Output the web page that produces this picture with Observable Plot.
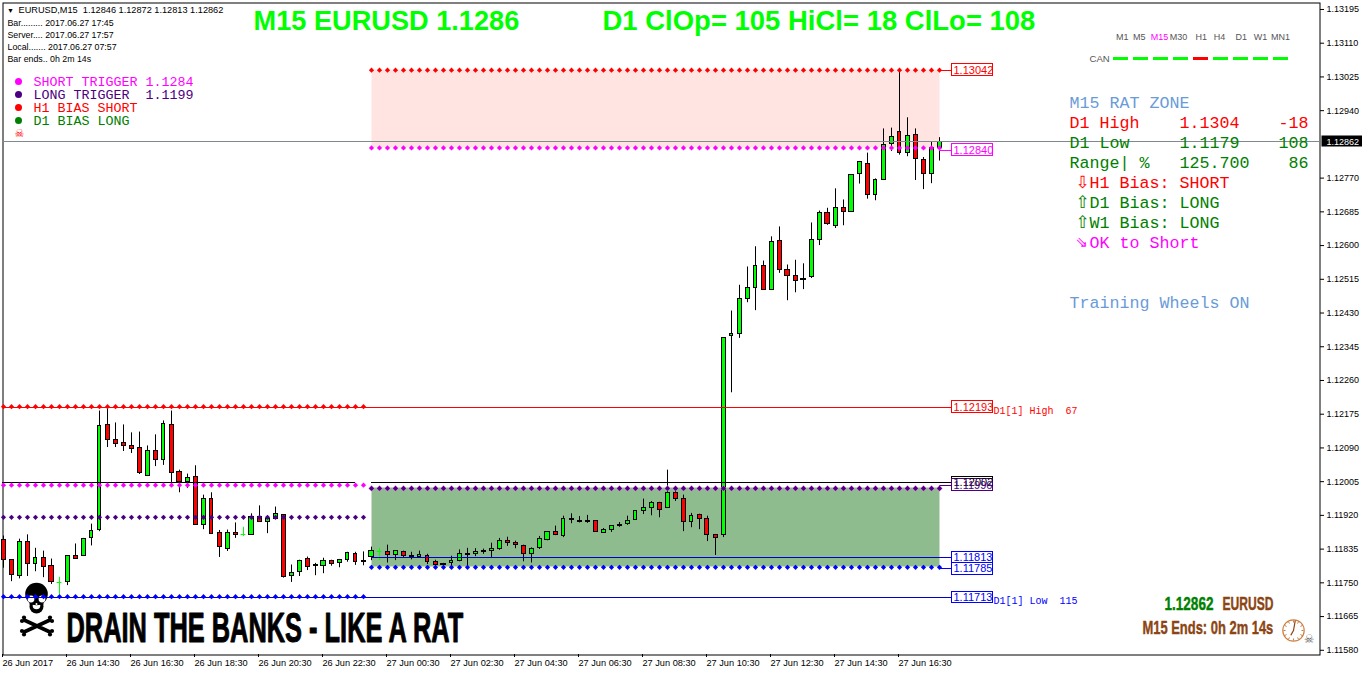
<!DOCTYPE html>
<html><head><meta charset="utf-8">
<style>html,body{margin:0;padding:0;background:#fff}svg{display:block}</style>
<script src="https://cdn.jsdelivr.net/npm/d3@7"></script>
<script src="https://cdn.jsdelivr.net/npm/@observablehq/plot@0.6"></script>
</head><body><div id="chart"></div>
<script>
const opens=[1.11858,1.11807,1.11768,1.11852,1.11797,1.11812,1.11792,1.11751,1.11752,1.11817,1.11817,1.11862,1.11883,1.12147,1.12109,1.12102,1.12094,1.12089,1.12019,1.12082,1.12059,1.12147,1.12029,1.12004,1.12016,1.11895,1.11961,1.11875,1.11835,1.11875,1.11873,1.11870,1.11917,1.11903,1.11910,1.11920,1.11767,1.11777,1.11809,1.11794,1.11792,1.11804,1.11799,1.11807,1.11822,1.11804,1.11814,1.11829,1.11827,1.11819,1.11827,1.11817,1.11814,1.11818,1.11802,1.11797,1.11799,1.11804,1.11822,1.11822,1.11829,1.11830,1.11835,1.11856,1.11850,1.11844,1.11822,1.11837,1.11859,1.11877,1.11869,1.11912,1.11907,1.11903,1.11907,1.11875,1.11882,1.11892,1.11898,1.11908,1.11930,1.11938,1.11950,1.11938,1.11976,1.11961,1.11903,1.11920,1.11910,1.11870,1.11870,1.12371,1.12376,1.12465,1.12492,1.12548,1.12487,1.12611,1.12538,1.12523,1.12517,1.12520,1.12613,1.12681,1.12649,1.12694,1.12684,1.12780,1.12805,1.12727,1.12765,1.12855,1.12885,1.12833,1.12878,1.12815,1.12780,1.12846];
const highs=[1.11868,1.11807,1.11860,1.11871,1.11837,1.11830,1.11810,1.11764,1.11817,1.11848,1.11862,1.11898,1.12183,1.12190,1.12153,1.12148,1.12128,1.12130,1.12095,1.12123,1.12158,1.12183,1.12034,1.12024,1.12045,1.11971,1.11977,1.11882,1.11883,1.11901,1.11890,1.11924,1.11944,1.11917,1.11941,1.11922,1.11795,1.11807,1.11815,1.11799,1.11812,1.11807,1.11809,1.11827,1.11827,1.11828,1.11840,1.11837,1.11845,1.11829,1.11830,1.11827,1.11830,1.11822,1.11807,1.11799,1.11817,1.11833,1.11837,1.11836,1.11835,1.11850,1.11862,1.11865,1.11855,1.11845,1.11838,1.11867,1.11877,1.11893,1.11918,1.11924,1.11917,1.11920,1.11907,1.11887,1.11894,1.11902,1.11918,1.11930,1.11961,1.11955,1.11953,1.12034,1.11983,1.11971,1.11925,1.11923,1.11918,1.11872,1.12366,1.12435,1.12500,1.12546,1.12597,1.12561,1.12622,1.12647,1.12551,1.12563,1.12554,1.12657,1.12687,1.12694,1.12743,1.12715,1.12777,1.12812,1.12833,1.12768,1.12894,1.12896,1.13042,1.12922,1.12894,1.12822,1.12860,1.12872];
const lows=[1.11787,1.11753,1.11760,1.11766,1.11778,1.11763,1.11746,1.11720,1.11743,1.11809,1.11817,1.11843,1.11879,1.12091,1.12091,1.12081,1.12076,1.12023,1.12019,1.12043,1.12046,1.12003,1.11977,1.11988,1.11895,1.11884,1.11872,1.11814,1.11829,1.11862,1.11867,1.11870,1.11903,1.11874,1.11910,1.11762,1.11751,1.11766,1.11781,1.11768,1.11773,1.11792,1.11788,1.11802,1.11794,1.11793,1.11806,1.11806,1.11800,1.11806,1.11812,1.11808,1.11812,1.11796,1.11791,1.11791,1.11791,1.11803,1.11791,1.11816,1.11822,1.11814,1.11832,1.11842,1.11836,1.11803,1.11800,1.11834,1.11856,1.11869,1.11864,1.11899,1.11901,1.11900,1.11877,1.11875,1.11877,1.11890,1.11895,1.11908,1.11922,1.11919,1.11914,1.11938,1.11955,1.11879,1.11889,1.11884,1.11854,1.11819,1.11864,1.12229,1.12366,1.12456,1.12436,1.12487,1.12487,1.12530,1.12461,1.12481,1.12489,1.12517,1.12600,1.12651,1.12643,1.12650,1.12684,1.12755,1.12717,1.12713,1.12765,1.12837,1.12828,1.12824,1.12764,1.12741,1.12756,1.12813];
const closes=[1.11808,1.11769,1.11852,1.11797,1.11812,1.11791,1.11751,1.11751,1.11817,1.11811,1.11861,1.11880,1.12145,1.12109,1.12101,1.12094,1.12088,1.12026,1.12082,1.12059,1.12150,1.12026,1.12004,1.12014,1.11895,1.11961,1.11874,1.11840,1.11875,1.11870,1.11873,1.11917,1.11903,1.11910,1.11923,1.11764,1.11774,1.11804,1.11789,1.11793,1.11804,1.11797,1.11807,1.11825,1.11802,1.11802,1.11830,1.11829,1.11819,1.11829,1.11817,1.11814,1.11819,1.11802,1.11796,1.11794,1.11804,1.11822,1.11819,1.11827,1.11830,1.11836,1.11856,1.11850,1.11845,1.11822,1.11836,1.11861,1.11877,1.11870,1.11912,1.11908,1.11903,1.11907,1.11877,1.11882,1.11894,1.11897,1.11907,1.11930,1.11938,1.11950,1.11934,1.11976,1.11961,1.11903,1.11918,1.11910,1.11870,1.11864,1.12366,1.12376,1.12465,1.12492,1.12548,1.12487,1.12608,1.12538,1.12523,1.12510,1.12514,1.12613,1.12681,1.12654,1.12694,1.12684,1.12777,1.12810,1.12727,1.12765,1.12853,1.12873,1.12833,1.12875,1.12817,1.12780,1.12845,1.12862];

const xTickBars=[0,8,16,24,32,40,48,56,64,72,80,88,96,104,112];
const xTickLabels=["26 Jun 2017","26 Jun 14:30","26 Jun 16:30","26 Jun 18:30","26 Jun 20:30","26 Jun 22:30","27 Jun 00:30","27 Jun 02:30","27 Jun 04:30","27 Jun 06:30","27 Jun 08:30","27 Jun 10:30","27 Jun 12:30","27 Jun 14:30","27 Jun 16:30"];
const yTicks=[1.13195,1.13110,1.13025,1.12940,1.12770,1.12685,1.12600,1.12515,1.12430,1.12345,1.12260,1.12175,1.12090,1.12005,1.11920,1.11835,1.11750,1.11665,1.11580];
const lastPrice=1.12862;
const priceBoxes=[1.13042,1.12840,1.12193,1.12002,1.11996,1.11813,1.11785,1.11713];
const boxColors=["#ff0000","#ff00ff","#ff0000","#000000","#4b0082","#0000ff","#0000ff","#0000ff"];
const tfNames=["M1","M5","M15","M30","H1","H4","D1","W1","MN1"];
const tfStates=[1,1,1,1,0,1,1,1,1];

/* layout */
const W=1362,H=675,ML=2,MT=2,MR=43,MB=21;
const xDom=[-0.125,164.5], yDom=[1.115694,1.132126];
const bars=opens.map((o,i)=>({i,o,h:highs[i],l:lows[i],c:closes[i]}));
const range=(a,b)=>d3.range(a,b+1);
const left=range(0,45), right=range(46,117);
const xi=px=>(px-3)/8;                               /* page pixel to bar units, for annotations */
const GREEN="#00ff00",RED="#ff0000";
const frameAt=(px,py)=>({frameAnchor:"top-left",dx:px-ML,dy:py-MT});
const note=(t,px,py,o={})=>Plot.text([t],{text:d=>d,...frameAt(px,py),textAnchor:"start",lineAnchor:"middle",fontFamily:"Liberation Sans",fontSize:9,fill:"#000",...o});
const dots=(idx,y,fill,r=2.35)=>Plot.dot(idx,{x:d=>d,y:()=>y,symbol:"diamond2",r,fill,stroke:"none"});
const rule=(x1,x2,y,stroke,strokeWidth=1)=>Plot.ruleY([y],{x1,x2,stroke,strokeWidth});
const shape=(px,py,draw,o={})=>Plot.dot([0],{...frameAt(px,py),symbol:{draw},r:4,fill:"#000",stroke:"none",...o});
const disc=(px,py,r,fill)=>Plot.dot([0],{...frameAt(px,py),r,fill,stroke:"none"});
const mono={fontFamily:"Liberation Mono",fontSize:16.67};
const lgd={fontFamily:"Liberation Mono",fontSize:13.33};
const tiny={fontSize:8.8};
const BLUE2="#6a9bd8",G2="#008000";
const BROWN="#8b4513";
const NARROW="Liberation Sans Narrow, Liberation Sans";
const tfX=[1121.7,1138.7,1159,1178,1200.7,1219,1240.7,1260,1280];
const clockTicks=d3.range(12).map(h=>h*Math.PI/6);

const marks=[
  Plot.rect([0],{x1:46,x2:117,y1:1.13042,y2:1.12846,fill:"#ffe4e1"}),
  Plot.rect([0],{x1:46,x2:117,y1:1.11988,y2:1.11789,fill:"#8fbc8f"}),
  Plot.frame({stroke:"#000"}),
  Plot.axisY(yTicks,{anchor:"right",tickSize:4,tickPadding:3,tickFormat:d=>d.toFixed(5),fontFamily:"Liberation Sans",fontSize:9,label:null,textAnchor:"start"}),
  Plot.axisX(xTickBars,{anchor:"bottom",tickSize:3,tickPadding:2,tickFormat:d=>xTickLabels[xTickBars.indexOf(d)],fontFamily:"Liberation Sans",fontSize:9.2,label:null,textAnchor:"start",dx:-1}),
  /* skull and crossbones */
  disc(36,606,7,"#000"), disc(36,605,3.8,"#fff"),
  disc(36,593.5,11.3,"#000"), shape(36,603,(c)=>c.rect(-7,-5,14,6)),
  disc(30.5,598.5,3.4,"#fff"), disc(41.5,598.5,3.4,"#fff"), disc(36,603.5,1,"#fff"),
  shape(36.5,625.5,(c)=>{c.moveTo(-14,-6.5);c.lineTo(14,6.5);c.moveTo(14,-6.5);c.lineTo(-14,6.5)},{fill:"none",stroke:"#000",strokeWidth:3.6}),
  ...[[-15,-5],[-13,-8.5],[15,-5],[13,-8.5],[-15,5],[-13,8.5],[15,5],[13,8.5]].map(([a,b])=>disc(36.5+a,625.5+b,2.1,"#000")),
  /* candles */
  Plot.ruleX(bars,{x:"i",y1:"l",y2:"h",stroke:d=>d.o===d.c?GREEN:"#000",strokeWidth:1}),
  Plot.rect(bars,{x1:d=>d.i-0.25,x2:d=>d.i+0.25,y1:"o",y2:"c",fill:d=>d.c>=d.o?GREEN:RED,stroke:"#000",strokeWidth:1,filter:d=>d.o!==d.c}),
  Plot.ruleY(bars.filter(d=>d.o===d.c),{x1:d=>d.i-0.3,x2:d=>d.i+0.3,y:"o",stroke:GREEN}),
  /* level lines */
  rule(xi(2),xi(951),1.12193,RED),
  rule(xi(2),xi(355),1.12002,"#000"),
  rule(xi(371),xi(951),1.12002,"#000"),
  rule(xi(2),xi(951),1.11713,"#0000cd"),
  rule(xi(371),xi(951),1.11813,"#0000cd"),
  rule(xi(2),xi(1319),lastPrice,"#808890"),
  rule(117,xi(951),1.13042,RED),
  rule(117,xi(951),1.1284,"#ff00ff"),
  rule(117,xi(951),1.11996,"#4b0082"),
  rule(117,xi(951),1.11785,"#0000ff"),
  /* dotted levels */
  dots(left,1.12194,RED),
  dots(left,1.11996,"#ff00ff"),
  dots(left,1.11915,"#4b0082"),
  dots(left,1.11715,"#0000ff"),
  dots(right,1.13042,RED),
  dots(right,1.12846,"#ff00ff"),
  dots(right,1.11988,"#ff66ff",2.8),
  dots(right,1.11988,"#4b0082"),
  dots(right,1.11789,"#0000ff"),
  /* price boxes */
  Plot.rect(priceBoxes,{x1:xi(951),x2:xi(992),y1:d=>d-0.00015,y2:d=>d+0.00015,fill:"#fff",stroke:(d,i)=>boxColors[i]}),
  Plot.text(priceBoxes,{x:xi(953),y:d=>d,text:d=>d.toFixed(5),textAnchor:"start",fill:(d,i)=>boxColors[i],fontFamily:"Liberation Sans",fontSize:11,letterSpacing:0.15}),
  note("D1[1] High  67",993,410,{fontFamily:"Liberation Mono",fontSize:10,fill:RED}),
  note("D1[1] Low  115",993,600.5,{fontFamily:"Liberation Mono",fontSize:10,fill:"#0000ff"}),
  /* last price tag */
  Plot.rect([lastPrice],{x1:xi(1321),x2:xi(1362),y1:d=>d-0.00013,y2:d=>d+0.00013,fill:"#000"}),
  note("1.12862",1326,142,{fill:"#fff",fontSize:9}),
  /* header */
  note("\u25BC",6.5,10,{fontSize:7}),
  note("EURUSD,M15  1.12846 1.12872 1.12813 1.12862",18,10,{fontSize:9.2}),
  note("Bar......... 2017.06.27 17:45",7,23,tiny),
  note("Server.... 2017.06.27 17:57",7,35,tiny),
  note("Local....... 2017.06.27 07:57",7,47,tiny),
  note("Bar ends.. 0h 2m 14s",7,59,tiny),
  /* legend */
  ...[["#ff00ff",81,"SHORT TRIGGER 1.1284"],["#4b0082",94,"LONG TRIGGER  1.1199"],["#ff0000",107,"H1 BIAS SHORT"],["#008000",120,"D1 BIAS LONG"]].flatMap(([c,y,t])=>[
    Plot.dot([0],{...frameAt(18,y),r:3.5,fill:c}),
    note(t,33,y,{...lgd,fill:c})
  ]),
  note("\u2620",14,132.5,{fontFamily:"DejaVu Sans",fontSize:11,fill:RED}),
  /* big titles */
  note("M15 EURUSD 1.1286",253,21,{fontSize:27,fontWeight:"bold",fill:"#00ff00",className:"fit-266"}),
  note("D1 ClOp= 105 HiCl= 18 ClLo= 108",602,21,{fontSize:27,fontWeight:"bold",fill:"#00ff00",className:"fit-433"}),
  /* timeframe strip */
  ...tfNames.map((t,i)=>note(t,tfX[i],36.5,{textAnchor:"middle",fontSize:9,fill:i===2?"#ff00ff":"#555"})),
  note("CAN",1089,58.5,{fontSize:9.6,fill:"#555"}),
  ...tfStates.map((s,i)=>shape(1120+20*i,58,(c)=>c.rect(-7.5,-1.5,15,3),{fill:s?"#00ff00":RED})),
  /* right panel */
  note("M15 RAT ZONE",1069,102,{...mono,fill:BLUE2}),
  note("D1 High",1069,122,{...mono,fill:RED}), note("1.1304",1179,122,{...mono,fill:RED}), note("-18",1308,122,{...mono,fill:RED,textAnchor:"end"}),
  note("D1 Low",1069,142,{...mono,fill:G2}), note("1.1179",1179,142,{...mono,fill:G2}), note("108",1308,142,{...mono,fill:G2,textAnchor:"end"}),
  note("Range| %",1069,162,{...mono,fill:G2}), note("125.700",1179,162,{...mono,fill:G2}), note("86",1308,162,{...mono,fill:G2,textAnchor:"end"}),
  note("\u21E9",1075,182,{fontFamily:"DejaVu Sans",fontSize:17,fill:RED}), note("H1 Bias: SHORT",1089,182,{...mono,fill:RED}),
  note("\u21E7",1075,202,{fontFamily:"DejaVu Sans",fontSize:17,fill:G2}), note("D1 Bias: LONG",1089,202,{...mono,fill:G2}),
  note("\u21E7",1075,222,{fontFamily:"DejaVu Sans",fontSize:17,fill:G2}), note("W1 Bias: LONG",1089,222,{...mono,fill:G2}),
  note("\u21D8",1075,242,{fontFamily:"DejaVu Sans",fontSize:15,fill:"#ff00ff"}), note("OK to Short",1089,242,{...mono,fill:"#ff00ff"}),
  note("Training Wheels ON",1069,302,{...mono,fill:BLUE2}),
  /* bottom-left banner */
  note("DRAIN THE BANKS - LIKE A RAT",66,628.5,{fontFamily:NARROW,fontWeight:"bold",fontSize:42,fill:"#000",stroke:"#000",strokeWidth:1,className:"fit-397"}),
  /* bottom-right */
  note("1.12862",1164,603.5,{fontFamily:NARROW,fontWeight:"bold",fontSize:18,fill:G2,stroke:G2,strokeWidth:0.4,className:"fit-49"}),
  note("EURUSD",1222,603.5,{fontFamily:NARROW,fontWeight:"bold",fontSize:18,fill:BROWN,stroke:BROWN,strokeWidth:0.4,className:"fit-51"}),
  note("M15 Ends: 0h 2m 14s",1142,627.5,{fontFamily:NARROW,fontWeight:"bold",fontSize:18,fill:BROWN,stroke:BROWN,strokeWidth:0.4,className:"fit-131"}),
  /* clock */
  Plot.dot([0],{...frameAt(1293,630),r:10.7,fill:"#fff",stroke:"#d08040",strokeWidth:1.2}),
  shape(1293,630,(c)=>clockTicks.forEach(a=>{c.moveTo(8*Math.sin(a),-8*Math.cos(a));c.lineTo(10*Math.sin(a),-10*Math.cos(a))}),{fill:"none",stroke:"#b87040",strokeWidth:0.9}),
  Plot.vector([0],{...frameAt(1293,630),length:9.5,rotate:10,anchor:"start",stroke:BROWN,strokeWidth:1.2,shape:{draw(c,l){c.moveTo(0,0);c.lineTo(0,-l)}}}),
  Plot.vector([0],{...frameAt(1293,630),length:5,rotate:210,anchor:"start",stroke:BROWN,strokeWidth:1.2,shape:{draw(c,l){c.moveTo(0,0);c.lineTo(0,-l)}}}),
  note("\u2620",1303.5,639,{fontFamily:"DejaVu Sans",fontSize:11.5,fill:"#555"}),
];

const chart=Plot.plot({
  width:W,height:H,marginLeft:ML,marginTop:MT,marginRight:MR,marginBottom:MB,
  x:{type:"linear",domain:xDom,axis:null},
  y:{type:"linear",domain:yDom,axis:null},
  style:{background:"#fff",overflow:"visible"},
  marks
});
document.getElementById("chart").append(chart);

/* squeeze the poster-style captions to the condensed width of the original */
chart.querySelectorAll("[class*='fit-']").forEach(el=>{
  const m=(el.getAttribute("class")||"").match(/fit-(\d+)/);
  if(!m)return;
  (el.tagName==="text"?[el]:el.querySelectorAll("text")).forEach(t=>{
    const sx=(+m[1])/t.getComputedTextLength();
    t.setAttribute("transform",((t.getAttribute("transform")||"")+` scale(${sx},1)`).trim());
  });
});
/* snap rectangles and horizontal rules to device pixels, as the terminal draws them */
const pixelOffset=el=>/0\.5/.test(el.parentNode.getAttribute("transform")||"")?0:0.5;
chart.querySelectorAll("rect").forEach(r=>{
  if(!r.hasAttribute("width")||!r.hasAttribute("height"))return;
  const off=pixelOffset(r),x=+r.getAttribute("x"),y=+r.getAttribute("y"),w=+r.getAttribute("width"),h=+r.getAttribute("height");
  const x0=Math.round(x-off)+off,x1=Math.round(x+w-off)+off,y0=Math.round(y-off)+off,y1=Math.round(y+h-off)+off;
  r.setAttribute("x",x0);r.setAttribute("y",y0);r.setAttribute("width",x1-x0);r.setAttribute("height",Math.max(y1-y0,1));
});
chart.querySelectorAll("line").forEach(l=>{
  if(l.getAttribute("y1")===null||l.getAttribute("y1")!==l.getAttribute("y2"))return;
  const off=pixelOffset(l),y=Math.round(+l.getAttribute("y1")-off)+off;
  l.setAttribute("y1",y);l.setAttribute("y2",y);
});
</script></body></html>
